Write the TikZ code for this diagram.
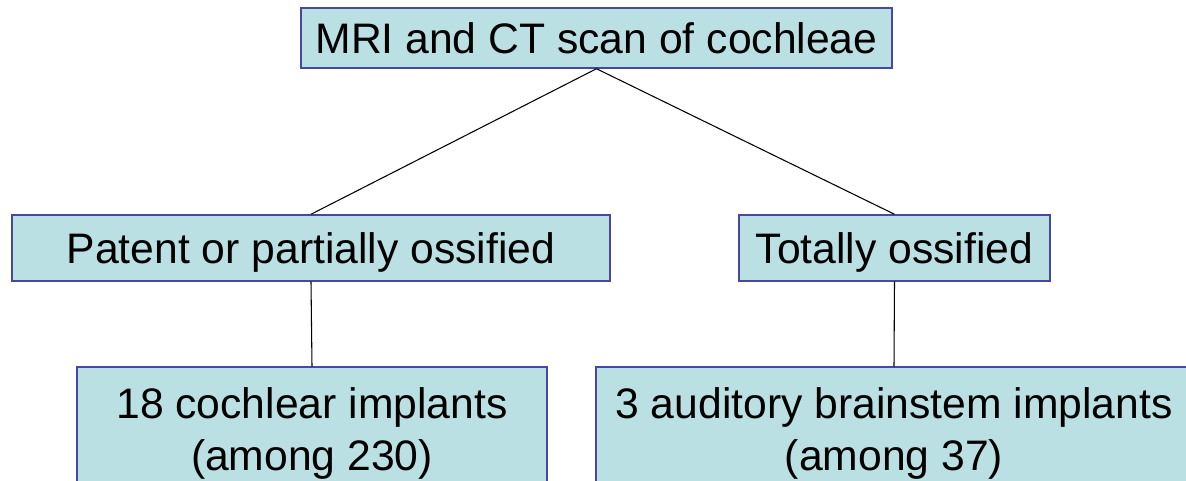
\documentclass[tikz,border=0pt]{standalone}
\usepackage{fontspec}
\setmainfont{Liberation Sans}
\definecolor{boxfill}{RGB}{187,224,227}
\definecolor{boxline}{RGB}{72,72,160}
\begin{document}
\begin{tikzpicture}[x=0.75pt,y=-0.75pt,
  box/.style={draw=boxline, line width=1.1pt, fill=boxfill, inner sep=0pt,
    text depth=0pt, align=center, font=\fontsize{32}{39}\selectfont},
  link/.style={draw=black, line width=0.8pt}]
\useasboundingbox (0,0) rectangle (1186,481);
\clip (0,0) rectangle (1186,481);
\node[box, minimum width=443.25pt, minimum height=45pt] (top) at (596.5,38) {MRI and CT scan of cochleae};
\node[box, minimum width=448.5pt, minimum height=49.5pt] (left) at (311,248) {Patent or partially ossified};
\node[box, minimum width=233.25pt, minimum height=49.5pt] (right) at (894.5,248) {Totally ossified};
\node[box, minimum width=352.5pt, minimum height=93pt] (bl) at (312,429) {18 cochlear implants\\(among 230)};
\node[box, minimum width=447pt, minimum height=93pt] (br) at (894,429) {3 auditory brainstem implants\\(among 37)};
\draw[link] (top.south) -- (left.north);
\draw[link] (top.south) -- (right.north);
\draw[link] (left.south) -- (bl.north);
\draw[link] (right.south) -- (br.north);
\end{tikzpicture}
\end{document}
